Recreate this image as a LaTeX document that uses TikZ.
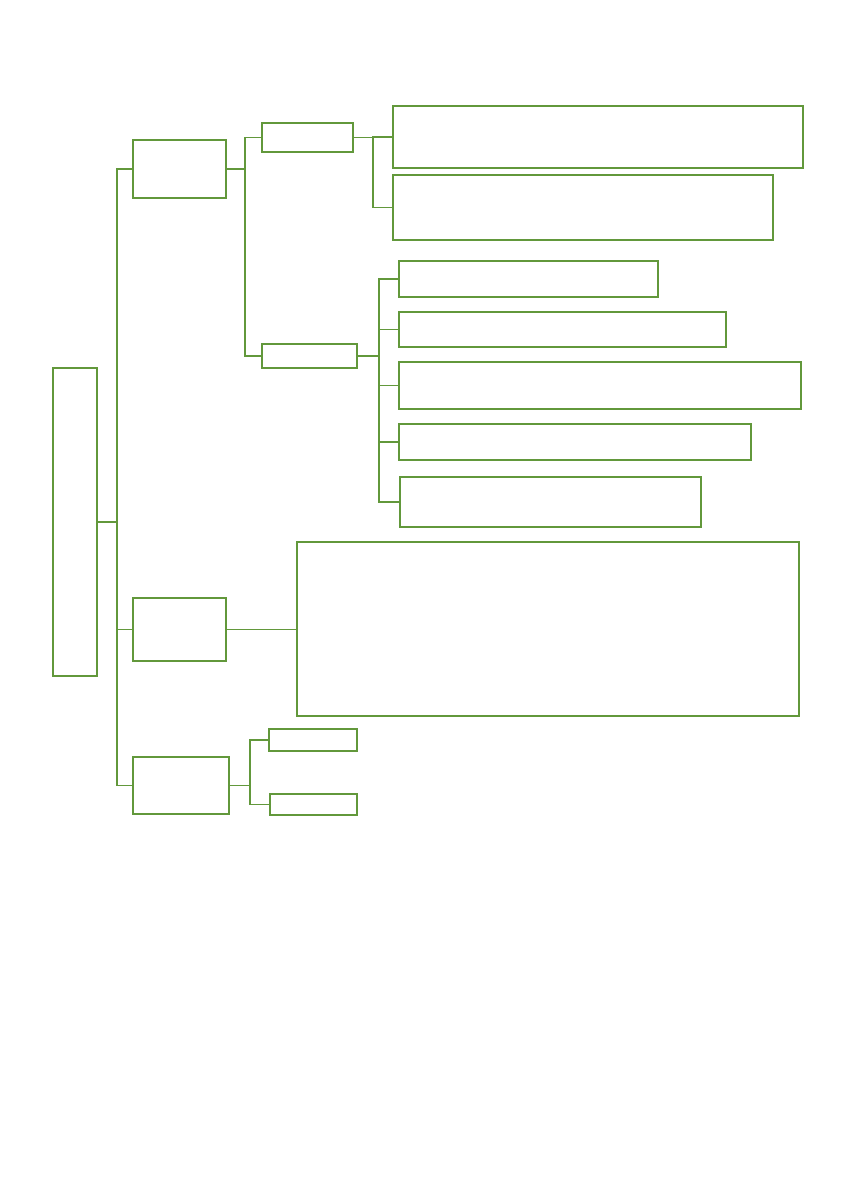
\documentclass[tikz,border=0pt]{standalone}
\usepackage{xcolor}
\definecolor{mapgreen}{RGB}{98,152,59}

\begin{document}
\begin{tikzpicture}[x=1pt, y=-1pt,
    box/.style={draw=mapgreen, line width=2pt, fill=white, inner sep=0pt, anchor=north west},
    link/.style={mapgreen, line width=1.1pt},
    trunk/.style={mapgreen, line width=1.5pt},
]

\useasboundingbox (0,0) rectangle (841,1191);

%% --- корінь ---
\node[box, minimum width=44pt, minimum height=308pt] (root) at (52,367) {};

%% --- перший рівень ---
\node[box, minimum width=93pt, minimum height=58pt] (lvA) at (132,139) {};
\node[box, minimum width=93pt, minimum height=63pt] (lvB) at (132,597) {};
\node[box, minimum width=96pt, minimum height=57pt] (lvC) at (132,756) {};

%% --- гілка A ---
\node[box, minimum width=91pt, minimum height=29pt] (A1) at (261,122) {};
\node[box, minimum width=95pt, minimum height=24pt] (A2) at (261,343) {};

\node[box, minimum width=410pt, minimum height=62pt] (A1a) at (392,105) {};
\node[box, minimum width=380pt, minimum height=65pt] (A1b) at (392,174) {};

\node[box, minimum width=259pt, minimum height=36pt] (A2a) at (398,260) {};
\node[box, minimum width=327pt, minimum height=35pt] (A2b) at (398,311) {};
\node[box, minimum width=402pt, minimum height=47pt] (A2c) at (398,361) {};
\node[box, minimum width=352pt, minimum height=36pt] (A2d) at (398,423) {};
\node[box, minimum width=301pt, minimum height=50pt] (A2e) at (399,476) {};

%% --- гілка B ---
\node[box, minimum width=502pt, minimum height=174pt] (Bx) at (296,541) {};

%% --- гілка C ---
\node[box, minimum width=88pt, minimum height=22pt] (C1) at (268,728) {};
\node[box, minimum width=87pt, minimum height=21pt] (C2) at (269,793) {};

%% --- стовбур ---
\draw[trunk] (root.east) -- ++(19,0) coordinate (sR);
\draw[trunk] (sR) |- (lvA.west);
\draw[trunk] (sR) |- (lvB.west);
\draw[trunk] (sR) |- (lvC.west);

%% --- з'єднання гілки A ---
\draw[link] (lvA.east) -- ++(18,0) coordinate (sA);
\draw[link] (sA) |- (A1.west);
\draw[link] (sA) |- (A2.west);

\draw[link] (A1.east) -- ++(19,0) coordinate (sA1);
\foreach \n in {A1a, A1b}
    \draw[link] (sA1) |- (\n.west);

\draw[link] (A2.east) -- ++(21,0) coordinate (sA2);
\foreach \n in {A2a, A2b, A2c, A2d, A2e}
    \draw[link] (sA2) |- (\n.west);

%% --- з'єднання гілки B ---
\draw[link] (lvB.east) -- (lvB.east -| Bx.west);

%% --- з'єднання гілки C ---
\draw[link] (lvC.east) -- ++(20,0) coordinate (sC);
\draw[link] (sC) |- (C1.west);
\draw[link] (sC) |- (C2.west);

\end{tikzpicture}
\end{document}
